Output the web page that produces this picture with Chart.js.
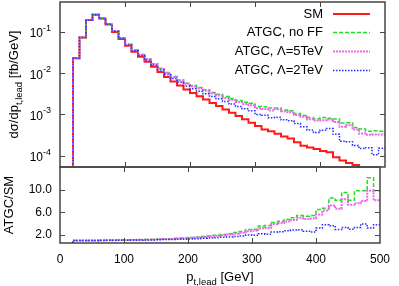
<!DOCTYPE html>
<html>
<head>
<meta charset="utf-8">
<script src="https://cdn.jsdelivr.net/npm/chart.js@4.4.1/dist/chart.umd.min.js"></script>
<style>
  html, body { margin: 0; padding: 0; background: #fff; }
  #wrap { position: relative; width: 399px; height: 286px; }
  #wrap canvas { position: absolute; left: 0; top: 0; }
</style>
</head>
<body>
<div id="wrap">
  <canvas id="top" width="399" height="286"></canvas>
  <canvas id="ratio" width="399" height="286"></canvas>
</div>
<script>
// bin low edges in GeV (10 GeV bins, last bin ends at 500)
const binLow = [20, 30, 40, 50, 60, 70, 80, 90, 100, 110, 120, 130, 140, 150, 160, 170,
  180, 190, 200, 210, 220, 230, 240, 250, 260, 270, 280, 290, 300, 310, 320, 330,
  340, 350, 360, 370, 380, 390, 400, 410, 420, 430, 440, 450, 460, 470, 480, 490];
const binEnd = 500;

// SM distribution, fb/GeV
const smVals = [0.023, 0.073, 0.195, 0.26, 0.21, 0.15, 0.10, 0.067, 0.046, 0.033, 0.025, 0.019,
  0.0142, 0.0107, 0.0081, 0.0063, 0.0050, 0.0040, 0.0033, 0.00275, 0.0023, 0.0019, 0.0016, 0.00132,
  0.0011, 0.00091, 0.00076, 0.00063, 0.00052, 0.00043, 0.00039, 0.00034, 0.00029, 0.00026, 0.00021, 0.000174,
  0.000158, 0.000145, 0.000129, 0.00012, 0.000091, 0.000076, 0.000066, 0.000059, 0.000045, 0.00004, 0.000033, 0.00004];

// ATGC/SM ratios
const noFFRatio = [1.0, 1.0, 1.0, 1.01, 1.02, 1.04, 1.06, 1.07, 1.09, 1.11, 1.13, 1.16,
  1.19, 1.23, 1.27, 1.32, 1.37, 1.43, 1.52, 1.62, 1.72, 1.78, 1.93, 2.05,
  2.2, 2.4, 2.6, 2.95, 3.0, 3.55, 3.65, 4.2, 4.4, 4.7, 5.0, 5.4,
  5.3, 5.4, 6.5, 6.7, 8.5, 8.1, 9.5, 8.1, 9.8, 9.8, 12.1, 9.8];
const lam5Ratio = [1.0, 1.0, 1.0, 1.01, 1.02, 1.03, 1.05, 1.06, 1.08, 1.1, 1.12, 1.14,
  1.17, 1.2, 1.24, 1.28, 1.33, 1.38, 1.46, 1.54, 1.63, 1.68, 1.8, 1.9,
  2.03, 2.2, 2.35, 2.65, 2.7, 3.15, 3.2, 3.9, 4.1, 4.35, 4.6, 5.0,
  4.8, 4.9, 5.6, 6.3, 7.2, 6.6, 8.3, 7.3, 7.6, 8.0, 9.8, 8.1];
const lam2Ratio = [1.0, 1.0, 1.0, 1.0, 1.01, 1.02, 1.03, 1.04, 1.05, 1.06, 1.07, 1.09,
  1.1, 1.12, 1.15, 1.17, 1.2, 1.22, 1.27, 1.32, 1.38, 1.42, 1.5, 1.55,
  1.62, 1.7, 1.8, 1.95, 1.92, 2.2, 2.12, 2.5, 2.55, 2.7, 2.85, 2.9,
  2.65, 2.5, 3.2, 3.8, 3.6, 2.95, 3.3, 3.0, 3.3, 3.9, 3.2, 3.8];

const xTicks = [0, 100, 200, 300, 400, 500];
const topYTicks = [1e-4, 1e-3, 1e-2, 1e-1];
const ratioYTicks = [2, 6, 10];

const FONT = "'Liberation Sans', Arial, Helvetica, sans-serif";
const FRAME = '#444';

const styles = {
  sm:   { label: 'SM',            color: '#ff1a1a', width: 2,   dash: [] },
  noFF: { label: 'ATGC, no FF',   color: '#1ee01e', width: 1.5, dash: [4, 2] },
  lam5: { label: 'ATGC, Λ=5TeV',  color: '#ee66ee', width: 2,   dash: [2, 1] },
  lam2: { label: 'ATGC, Λ=2TeV',  color: '#2a2aff', width: 1.5, dash: [1.5, 1.5] }
};

// histogram as step points: start from "nothing" below the first edge
function steps(vals, floor) {
  const pts = [{ x: binLow[0], y: floor }];
  vals.forEach((v, i) => pts.push({ x: binLow[i], y: v }));
  pts.push({ x: binEnd, y: vals[vals.length - 1] });
  return pts;
}

// upper panel ATGC curves = SM x ratio
const times = r => smVals.map((v, i) => v * r[i]);

function ds(key, data, order) {
  const s = styles[key];
  return {
    label: s.label, data, order,
    borderColor: s.color, borderWidth: s.width, borderDash: s.dash,
    stepped: true, pointRadius: 0, fill: false, tension: 0
  };
}

function frameAndTicks(chart, yTicks) {
  const { ctx, chartArea: a, scales } = chart;
  ctx.save();
  ctx.strokeStyle = FRAME;
  ctx.lineWidth = 1;
  ctx.beginPath();
  xTicks.slice(1, -1).forEach(t => {
    const px = Math.round(scales.x.getPixelForValue(t)) + 0.5;
    ctx.moveTo(px, a.top); ctx.lineTo(px, a.top + 5);
    ctx.moveTo(px, a.bottom); ctx.lineTo(px, a.bottom - 5);
  });
  yTicks.forEach(t => {
    const py = Math.round(scales.y.getPixelForValue(t)) + 0.5;
    ctx.moveTo(a.left, py); ctx.lineTo(a.left + 5, py);
    ctx.moveTo(a.right, py); ctx.lineTo(a.right - 5, py);
  });
  ctx.stroke();
  ctx.lineWidth = 1.5;
  ctx.strokeRect(a.left, a.top, a.right - a.left, a.bottom - a.top);
  ctx.restore();
}

// draws text pieces, some of them as subscripts, starting at (x, y) baseline
function drawPieces(ctx, pieces, x, y, size, subSize) {
  let w = 0;
  pieces.forEach(p => {
    ctx.font = (p.sub ? subSize : size) + 'px ' + FONT;
    w += ctx.measureText(p.t).width;
  });
  let cx = x - w / 2;
  pieces.forEach(p => {
    ctx.font = (p.sub ? subSize : size) + 'px ' + FONT;
    ctx.fillText(p.t, cx, y + (p.sub ? 3.5 : 0));
    cx += ctx.measureText(p.t).width;
  });
}

const topPlugin = {
  id: 'topDecor',
  afterDraw(chart) {
    const { ctx, chartArea: a, scales } = chart;
    frameAndTicks(chart, topYTicks);
    ctx.save();
    ctx.fillStyle = '#000';
    ctx.textBaseline = 'alphabetic';
    // decade labels with superscript exponent
    topYTicks.forEach(t => {
      const py = scales.y.getPixelForValue(t);
      const exp = String(Math.round(Math.log10(t)));
      ctx.font = '9px ' + FONT;
      const we = ctx.measureText(exp).width;
      ctx.font = '12px ' + FONT;
      const wb = ctx.measureText('10').width;
      const right = 51;
      ctx.fillText('10', right - we - wb, py + 5.5);
      ctx.font = '9px ' + FONT;
      ctx.fillText(exp, right - we, py - 1);
    });
    // y title
    ctx.save();
    ctx.translate(18, (a.top + a.bottom) / 2);
    ctx.rotate(-Math.PI / 2);
    drawPieces(ctx, [{ t: 'dσ/dp' }, { t: 't,lead', sub: true }, { t: ' [fb/GeV]' }], 0, 0, 13, 9.5);
    ctx.restore();
    // legend: text right aligned, sample line to its right
    const keys = ['sm', 'noFF', 'lam5', 'lam2'];
    const rows = [14, 32.5, 51.5, 70.5];
    keys.forEach((k, i) => {
      const s = styles[k];
      ctx.font = '13px ' + FONT;
      ctx.textAlign = 'right';
      ctx.textBaseline = 'middle';
      ctx.fillStyle = '#000';
      ctx.fillText(s.label, 323, rows[i]);
      ctx.strokeStyle = s.color;
      ctx.lineWidth = s.width;
      ctx.setLineDash(s.dash);
      ctx.beginPath();
      ctx.moveTo(333, rows[i]);
      ctx.lineTo(370, rows[i]);
      ctx.stroke();
    });
    ctx.restore();
  }
};

const ratioPlugin = {
  id: 'ratioDecor',
  afterDraw(chart) {
    const { ctx, chartArea: a } = chart;
    frameAndTicks(chart, ratioYTicks);
    ctx.save();
    ctx.fillStyle = '#000';
    ctx.textBaseline = 'alphabetic';
    drawPieces(ctx, [{ t: 'p' }, { t: 't,lead', sub: true }, { t: ' [GeV]' }], (a.left + a.right) / 2, 281, 13, 9.5);
    ctx.translate(13, (a.top + a.bottom) / 2);
    ctx.rotate(-Math.PI / 2);
    ctx.font = '13px ' + FONT;
    ctx.textAlign = 'center';
    ctx.fillText('ATGC/SM', 0, 0);
    ctx.restore();
  }
};

Chart.defaults.font.family = FONT;
Chart.defaults.color = '#000';

new Chart(document.getElementById('top'), {
  type: 'line',
  data: {
    datasets: [
      ds('sm', steps(smVals, 1e-9), 4),
      ds('noFF', steps(times(noFFRatio), 1e-9), 3),
      ds('lam5', steps(times(lam5Ratio), 1e-9), 2),
      ds('lam2', steps(times(lam2Ratio), 1e-9), 1)
    ]
  },
  options: {
    responsive: false, animation: false, devicePixelRatio: 1,
    layout: { padding: { left: 60, right: 14, top: 2, bottom: 119 } },
    plugins: { legend: { display: false }, tooltip: { enabled: false } },
    scales: {
      x: { type: 'linear', min: 0, max: 500, display: false },
      y: { type: 'logarithmic', min: 5.3e-5, max: 0.53, display: false }
    }
  },
  plugins: [topPlugin]
});

new Chart(document.getElementById('ratio'), {
  type: 'line',
  data: {
    datasets: [
      ds('noFF', steps(noFFRatio, 0), 3),
      ds('lam5', steps(lam5Ratio, 0), 2),
      ds('lam2', steps(lam2Ratio, 0), 1)
    ]
  },
  options: {
    responsive: false, animation: false, devicePixelRatio: 1,
    layout: { padding: { left: 0, right: 14, top: 167, bottom: 0 } },
    plugins: { legend: { display: false }, tooltip: { enabled: false } },
    scales: {
      x: {
        type: 'linear', min: 0, max: 500,
        afterBuildTicks: s => { s.ticks = xTicks.map(v => ({ value: v })); },
        afterFit: s => { s.height = 43; },
        grid: { display: false, drawTicks: false },
        border: { display: false },
        ticks: { font: { size: 12 }, padding: 9, maxRotation: 0 }
      },
      y: {
        type: 'linear', min: 0.55, max: 14,
        afterBuildTicks: s => { s.ticks = ratioYTicks.map(v => ({ value: v })); },
        afterFit: s => { s.width = 60; },
        grid: { display: false, drawTicks: false },
        border: { display: false },
        ticks: { font: { size: 12 }, padding: 8, callback: v => v.toFixed(1) }
      }
    }
  },
  plugins: [ratioPlugin]
});
</script>
</body>
</html>
